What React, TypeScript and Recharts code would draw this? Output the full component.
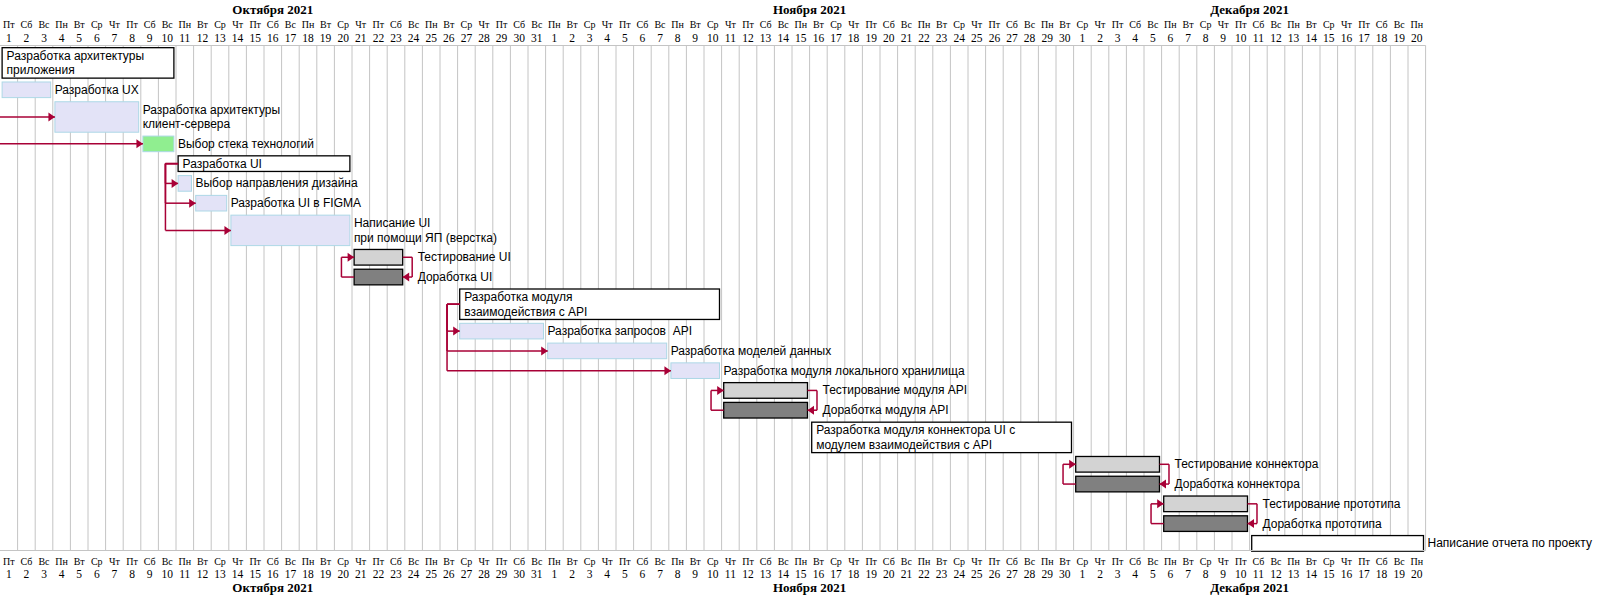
import React from 'react';
import { ComposedChart, XAxis, YAxis, ReferenceArea, ReferenceLine, ReferenceDot } from 'recharts';

// ---------- calendar ----------
const rangeStart = '2021-10-01';
const rangeEnd = '2021-12-20';
const weekdayLabels = ['Вс', 'Пн', 'Вт', 'Ср', 'Чт', 'Пт', 'Сб'];
const monthLabels = ['Октября 2021', 'Ноября 2021', 'Декабря 2021'];
const monthStarts = ['2021-10-01', '2021-11-01', '2021-12-01'];
const monthEnds = ['2021-10-31', '2021-11-30', '2021-12-20'];

// ---------- tasks ----------
const taskNames = [
  'Разработка архитектуры\nприложения',
  'Разработка UX',
  'Разработка архитектуры\nклиент-сервера',
  'Выбор стека технологий',
  'Разработка UI',
  'Выбор направления дизайна',
  'Разработка UI в FIGMA',
  'Написание UI\nпри помощи ЯП (верстка)',
  'Тестирование UI',
  'Доработка UI',
  'Разработка модуля\nвзаимодействия с API',
  'Разработка запросов  API',
  'Разработка моделей данных',
  'Разработка модуля локального хранилища',
  'Тестирование модуля API',
  'Доработка модуля API',
  'Разработка модуля коннектора UI с\nмодулем взаимодействия с API',
  'Тестирование коннектора',
  'Доработка коннектора',
  'Тестирование прототипа',
  'Доработка прототипа',
  'Написание отчета по проекту',
];
const taskStarts = [
  '2021-10-01', '2021-10-01', '2021-10-04', '2021-10-09', '2021-10-11', '2021-10-11',
  '2021-10-12', '2021-10-14', '2021-10-21', '2021-10-21', '2021-10-27', '2021-10-27',
  '2021-11-01', '2021-11-08', '2021-11-11', '2021-11-11', '2021-11-16', '2021-12-01',
  '2021-12-01', '2021-12-06', '2021-12-06', '2021-12-11',
];
const taskEnds = [
  '2021-10-10', '2021-10-03', '2021-10-08', '2021-10-10', '2021-10-20', '2021-10-11',
  '2021-10-13', '2021-10-20', '2021-10-23', '2021-10-23', '2021-11-10', '2021-10-31',
  '2021-11-07', '2021-11-10', '2021-11-15', '2021-11-15', '2021-11-30', '2021-12-05',
  '2021-12-05', '2021-12-10', '2021-12-10', '2021-12-20',
];
const taskKinds = [
  'group', 'task', 'task', 'done', 'group', 'task', 'task', 'task', 'test', 'fix', 'group',
  'task', 'task', 'task', 'test', 'fix', 'group', 'test', 'fix', 'test', 'fix', 'report',
];

// ---------- dependencies (-1 = from outside the chart) ----------
const depFrom = [-1, -1, 4, 4, 4, 9, 8, 10, 10, 10, 15, 14, 18, 17, 20, 19];
const depTo = [2, 3, 5, 6, 7, 8, 9, 11, 12, 13, 14, 15, 17, 18, 19, 20];

// ---------- helpers ----------
const DAY_MS = 86400000;
const BASE = (() => { const [y, m, d] = rangeStart.split('-').map(Number); return Date.UTC(y, m - 1, d); })();
const dayIndex = (s: string) => {
  const [y, m, d] = s.split('-').map(Number);
  return Math.round((Date.UTC(y, m - 1, d) - BASE) / DAY_MS);
};
const totalDays = dayIndex(rangeEnd) + 1;
const dayCenters = Array.from({ length: totalDays }, (_, i) => i + 0.5);
const dayBounds = Array.from({ length: totalDays }, (_, i) => i + 1);
const monthCenters = monthStarts.map((s, i) => (dayIndex(s) + dayIndex(monthEnds[i]) + 1) / 2);

const DOUBLE_ROW = 1.735;
const PAD = 0.11;
const H1 = 0.79;
const H2 = 1.54;
const INSET = 0.12;
const LOOP_LEFT = 0.6;
const LOOP_RIGHT = 0.42;
const Y_TOTAL = 25.54;

const lineCounts = taskNames.map((n) => n.split('\n').length);
const rowTops: number[] = [];
lineCounts.reduce((acc, c, i) => { rowTops[i] = acc; return acc + (c > 1 ? DOUBLE_ROW : 1); }, 0);

const geom = taskNames.map((_, i) => {
  const start = dayIndex(taskStarts[i]);
  const end = dayIndex(taskEnds[i]);
  const y1 = rowTops[i] + PAD;
  const y2 = y1 + (lineCounts[i] > 1 ? H2 : H1);
  return { start, end, x1: start + INSET, x2: end + 1 - INSET, y1, y2, mid: (y1 + y2) / 2 };
});

const segments: { a: { x: number; y: number }; b: { x: number; y: number } }[] = [];
const heads: { x: number; y: number; dir: 'r' | 'l' }[] = [];
depFrom.forEach((f, k) => {
  const t = depTo[k];
  const T = geom[t];
  if (f < 0) {
    segments.push({ a: { x: 0, y: T.mid }, b: { x: T.x1, y: T.mid } });
    heads.push({ x: T.x1, y: T.mid, dir: 'r' });
    return;
  }
  const F = geom[f];
  if (taskKinds[f] === 'group' || f > t) {
    const vx = F.start - LOOP_LEFT;
    segments.push({ a: { x: F.x1, y: F.mid }, b: { x: vx, y: F.mid } });
    segments.push({ a: { x: vx, y: F.mid }, b: { x: vx, y: T.mid } });
    segments.push({ a: { x: vx, y: T.mid }, b: { x: T.x1, y: T.mid } });
    heads.push({ x: T.x1, y: T.mid, dir: 'r' });
  } else {
    const rx = F.end + 1 + LOOP_RIGHT;
    segments.push({ a: { x: F.x2, y: F.mid }, b: { x: rx, y: F.mid } });
    segments.push({ a: { x: rx, y: F.mid }, b: { x: rx, y: T.mid } });
    segments.push({ a: { x: rx, y: T.mid }, b: { x: T.x2, y: T.mid } });
    heads.push({ x: T.x2, y: T.mid, dir: 'l' });
  }
});

// ---------- styles ----------
const ARROW = '#A80036';
const GRID = '#C4C4C4';
const SANS = '"Liberation Sans", Arial, sans-serif';
const SERIF = '"Liberation Serif", "Times New Roman", serif';
const kindStyle: Record<string, { fill: string; stroke: string; sw: number }> = {
  task: { fill: '#E3E3F7', stroke: '#ADD8E6', sw: 1 },
  done: { fill: '#90EE90', stroke: '#ADD8E6', sw: 1 },
  test: { fill: '#D3D3D3', stroke: '#000000', sw: 1.3 },
  fix: { fill: '#808080', stroke: '#000000', sw: 1.3 },
  group: { fill: '#FFFFFF', stroke: '#000000', sw: 1.3 },
  report: { fill: '#FFFFFF', stroke: '#000000', sw: 1.3 },
};

const makeShape = (i: number) => (p: any) => {
  const { x, y, width, height } = p;
  const kind = taskKinds[i];
  const st = kindStyle[kind];
  const lines = taskNames[i].split('\n');
  const inside = kind === 'group';
  const tx = inside ? x + 4.5 : x + width + (kind === 'test' || kind === 'fix' ? 15 : 4);
  const cy = y + height / 2;
  const step = 14.6;
  return (
    <g>
      <rect x={x} y={y} width={width} height={height} fill={st.fill} stroke={st.stroke} strokeWidth={st.sw} />
      {lines.map((ln, j) => (
        <text
          key={j}
          x={tx}
          y={cy + (j - (lines.length - 1) / 2) * step}
          dominantBaseline="central"
          fontFamily={SANS}
          fontSize={12}
          fill="#000"
          style={{ whiteSpace: 'pre' }}
        >
          {ln}
        </text>
      ))}
    </g>
  );
};

const gridShape = (p: any) => {
  const { x, y, height } = p;
  return <line x1={x} x2={x} y1={y} y2={y + height} stroke={GRID} strokeWidth={1} />;
};

const headShape = (dir: 'r' | 'l') => (p: any) => {
  const { cx, cy } = p;
  const s = dir === 'r' ? -1 : 1;
  return <path d={`M${cx},${cy} L${cx + s * 6.5},${cy - 4.5} L${cx + s * 6.5},${cy + 4.5} Z`} fill={ARROW} />;
};

const DayTick = (props: any) => {
  const { x, y, payload, side } = props;
  const i = Math.floor(payload.value);
  const date = new Date(BASE + i * DAY_MS);
  const dow = weekdayLabels[date.getUTCDay()];
  const num = date.getUTCDate();
  const d1 = side === 'top' ? -21.5 : 11;
  const d2 = side === 'top' ? -7.8 : 23.3;
  return (
    <g>
      <text x={x} y={y + d1} textAnchor="middle" dominantBaseline="central" fontFamily={SERIF} fontSize={10} fill="#000">
        {dow}
      </text>
      <text x={x} y={y + d2} textAnchor="middle" dominantBaseline="central" fontFamily={SERIF} fontSize={11.5} fill="#000">
        {num}
      </text>
    </g>
  );
};

const MonthTick = (props: any) => {
  const { x, y, payload, side } = props;
  const idx = monthCenters.indexOf(payload.value);
  const dy = side === 'top' ? -6.5 : 7;
  return (
    <text x={x} y={y + dy} textAnchor="middle" dominantBaseline="central" fontFamily={SERIF} fontSize={13} fontWeight="bold" fill="#000">
      {monthLabels[idx]}
    </text>
  );
};

const chartData = dayCenters.map((c) => ({ x: c, row: 0 }));

export default function App() {
  return (
    <div style={{ position: 'absolute', left: 0, top: 0, width: 1597, height: 595, background: '#fff' }}>
      <ComposedChart width={1597} height={595} data={chartData} margin={{ top: 0.5, right: 171.4, bottom: 0, left: 0 }}>
        <XAxis
          xAxisId="days"
          dataKey="x"
          orientation="top"
          type="number"
          domain={[0, totalDays]}
          allowDataOverflow
          ticks={dayCenters}
          interval={0}
          height={30}
          tickSize={0}
          tickMargin={0}
          tickLine={false}
          axisLine={{ stroke: GRID }}
          tick={(p: any) => <DayTick {...p} side="top" />}
        />
        <XAxis
          xAxisId="daysB"
          dataKey="x"
          orientation="bottom"
          type="number"
          domain={[0, totalDays]}
          allowDataOverflow
          ticks={dayCenters}
          interval={0}
          height={30}
          tickSize={0}
          tickMargin={0}
          tickLine={false}
          axisLine={{ stroke: GRID }}
          tick={(p: any) => <DayTick {...p} side="bottom" />}
        />
        <XAxis
          xAxisId="months"
          dataKey="x"
          orientation="top"
          type="number"
          domain={[0, totalDays]}
          allowDataOverflow
          ticks={monthCenters}
          interval={0}
          height={15}
          tickSize={0}
          tickMargin={0}
          tickLine={false}
          axisLine={false}
          tick={(p: any) => <MonthTick {...p} side="top" />}
        />
        <XAxis
          xAxisId="monthsB"
          dataKey="x"
          orientation="bottom"
          type="number"
          domain={[0, totalDays]}
          allowDataOverflow
          ticks={monthCenters}
          interval={0}
          height={14.5}
          tickSize={0}
          tickMargin={0}
          tickLine={false}
          axisLine={false}
          tick={(p: any) => <MonthTick {...p} side="bottom" />}
        />
        <YAxis yAxisId="rows" dataKey="row" type="number" domain={[0, Y_TOTAL]} allowDataOverflow reversed hide />

        {dayBounds.map((b) => (
          <ReferenceArea
            key={`g${b}`}
            xAxisId="days"
            yAxisId="rows"
            x1={b}
            x2={b}
            y1={0}
            y2={Y_TOTAL}
            ifOverflow="visible"
            shape={gridShape}
          />
        ))}

        {geom.map((g, i) => (
          <ReferenceArea
            key={`t${i}`}
            xAxisId="days"
            yAxisId="rows"
            x1={g.x1}
            x2={g.x2}
            y1={g.y1}
            y2={g.y2}
            ifOverflow="visible"
            shape={makeShape(i)}
          />
        ))}

        {segments.map((s, k) => (
          <ReferenceLine
            key={`s${k}`}
            xAxisId="days"
            yAxisId="rows"
            segment={[s.a, s.b]}
            stroke={ARROW}
            strokeWidth={1.5}
            ifOverflow="visible"
          />
        ))}
        {heads.map((h, k) => (
          <ReferenceDot
            key={`h${k}`}
            xAxisId="days"
            yAxisId="rows"
            x={h.x}
            y={h.y}
            r={4}
            ifOverflow="visible"
            shape={headShape(h.dir)}
          />
        ))}
      </ComposedChart>
    </div>
  );
}
